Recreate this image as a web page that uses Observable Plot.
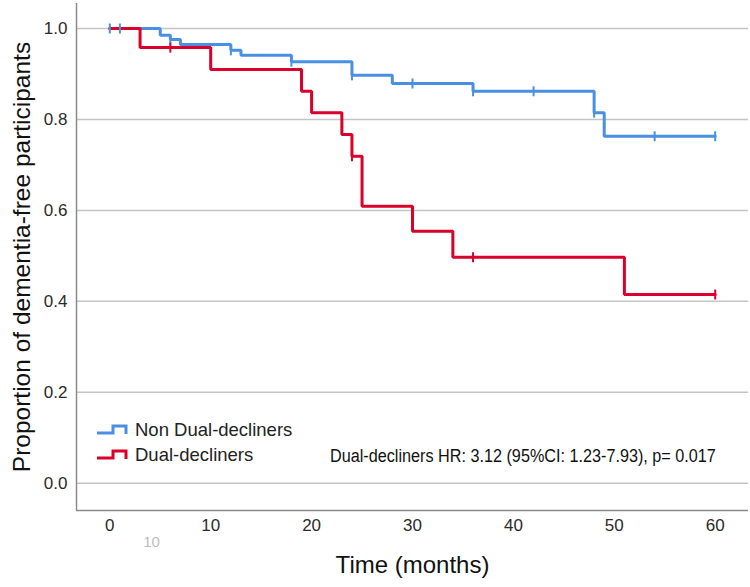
<!DOCTYPE html>
<html>
<head>
<meta charset="utf-8">
<script src="https://cdn.jsdelivr.net/npm/d3@7"></script>
<script src="https://cdn.jsdelivr.net/npm/@observablehq/plot@0.6"></script>
<style>
  html, body { margin: 0; padding: 0; background: #fff; }
  #wrap { position: relative; width: 750px; height: 587px; font-family: "Liberation Sans", Arial, sans-serif; }
  .leg { position: absolute; left: 96px; font-size: 18.5px; color: #222; display: flex; align-items: center; white-space: nowrap; }
  .leg svg { margin-right: 6px; }
  #note { position: absolute; left: 330px; top: 446px; font-size: 18px; color: #111; white-space: nowrap; transform: scaleX(0.9); transform-origin: left top; }
</style>
</head>
<body>
<div id="wrap"></div>
<script>
// ---- data ----
const seriesNames = ["Non Dual-decliners", "Dual-decliners"];
const seriesColors = ["#4a90e2", "#d9002b"];

const blueTime = [0, 5, 6, 7, 12, 13, 18, 24, 28, 36, 48, 49, 60];
const blueSurv = [1.0, 0.985, 0.976, 0.965, 0.952, 0.941, 0.927, 0.897, 0.879, 0.862, 0.815, 0.763, 0.763];
const blueCensor = [0, 1, 6, 12, 18, 24, 30, 36, 42, 48, 54, 60];

const redTime = [0, 3, 10, 19, 20, 23, 24, 25, 30, 34, 51, 60];
const redSurv = [1.0, 0.958, 0.910, 0.862, 0.815, 0.767, 0.719, 0.609, 0.554, 0.497, 0.415, 0.415];
const redCensor = [6, 24, 36, 60];

const xTicks = [0, 10, 20, 30, 40, 50, 60];
const yTicks = [0.0, 0.2, 0.4, 0.6, 0.8, 1.0];
const xDomain = [-3.3, 63.3];
const yDomain = [-0.06, 1.055];

const xTitle = "Time (months)";
const yTitle = "Proportion of dementia-free participants";
const strayLabel = "10";
const noteText = "Dual-decliners HR: 3.12 (95%CI: 1.23-7.93), p= 0.017";

// ---- build tables ----
function curve(times, surv, name) {
  return times.map((t, i) => ({t, s: surv[i], group: name}));
}
function survAt(times, surv, t) {
  let v = surv[0];
  for (let i = 0; i < times.length; i++) if (times[i] <= t) v = surv[i];
  return v;
}
const blueLine = curve(blueTime, blueSurv, seriesNames[0]);
const redLine = curve(redTime, redSurv, seriesNames[1]);
const blueCens = blueCensor.map(t => ({t, s: survAt(blueTime, blueSurv, t)}));
const redCens = redCensor.map(t => ({t, s: survAt(redTime, redSurv, t)}));

const vtick = {draw(ctx, size) { const r = Math.sqrt(size / Math.PI); ctx.moveTo(0, -r); ctx.lineTo(0, r); }};

const chart = Plot.plot({
  width: 750,
  height: 587,
  marginLeft: 76,
  marginRight: 2,
  marginTop: 3,
  marginBottom: 77,
  style: {fontFamily: "Liberation Sans, Arial, sans-serif", fontSize: "17px", color: "#2a2a2a", background: "#fff"},
  x: {domain: xDomain, ticks: xTicks, tickSize: 0, tickPadding: 8, label: null},
  y: {domain: yDomain, ticks: yTicks, tickFormat: d3.format(".1f"), tickSize: 0, tickPadding: 9, label: null},
  marks: [
    Plot.ruleY(yTicks, {stroke: "#c4c4c4", strokeWidth: 1.5}),
    Plot.ruleX([xDomain[0]], {stroke: "#8a8a8a", strokeWidth: 1.5}),
    Plot.ruleY([yDomain[0]], {stroke: "#8a8a8a", strokeWidth: 1.5}),
    Plot.line(blueLine, {x: "t", y: "s", curve: "step-after", stroke: seriesColors[0], strokeWidth: 3, strokeLinejoin: "miter"}),
    Plot.line(redLine, {x: "t", y: "s", curve: "step-after", stroke: seriesColors[1], strokeWidth: 3, strokeLinejoin: "miter"}),
    Plot.dot(blueCens, {x: "t", y: "s", symbol: vtick, r: 5, stroke: seriesColors[0], strokeWidth: 2, fill: "none"}),
    Plot.dot(redCens, {x: "t", y: "s", symbol: vtick, r: 5, stroke: seriesColors[1], strokeWidth: 2, fill: "none"}),
    Plot.text([yTitle], {frameAnchor: "left", text: d => d, textAnchor: "middle", rotate: -90, dx: -54, fontSize: 24.5, fill: "#111"}),
    Plot.text([xTitle], {frameAnchor: "bottom", text: d => d, textAnchor: "middle", dy: 62, fontSize: 24, fill: "#111"}),
    Plot.text([strayLabel], {frameAnchor: "bottom-left", text: d => d, textAnchor: "middle", dx: 75, dy: 36, fontSize: 15, fill: "#bdbdbd"})
  ]
});

const wrap = document.getElementById("wrap");
wrap.appendChild(chart);

function legendItem(name, color, top) {
  const div = document.createElement("div");
  div.className = "leg";
  div.style.top = top + "px";
  div.innerHTML = `<svg width="33" height="12"><path d="M1,9 H17 V2 H30 V10" fill="none" stroke="${color}" stroke-width="3"/></svg><span></span>`;
  div.querySelector("span").textContent = name;
  wrap.appendChild(div);
}
legendItem(seriesNames[0], seriesColors[0], 419);
legendItem(seriesNames[1], seriesColors[1], 444);

const note = document.createElement("div");
note.id = "note";
note.textContent = noteText;
wrap.appendChild(note);
</script>
</body>
</html>
